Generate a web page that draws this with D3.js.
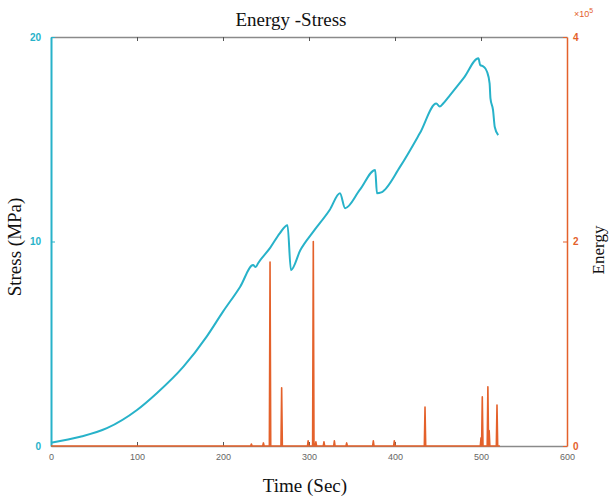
<!DOCTYPE html>
<html>
<head>
<meta charset="utf-8">
<script src="https://cdn.jsdelivr.net/npm/d3@7"></script>
<style>
  body { margin: 0; background: #fff; }
  text { font-family: "Liberation Sans", Arial, sans-serif; }
  .serif { font-family: "Liberation Serif", "Times New Roman", serif; fill: #111; }
</style>
</head>
<body>
<div id="chart"></div>
<script>
// Energy - Stress, dual axis line chart

// stress curve (MPa) vs time (sec)
const stressTime = [0, 34, 65, 100, 123, 154, 181, 200, 220, 235, 238, 241, 255, 266, 275, 279,
  290, 305, 324, 336, 342, 359, 377, 379, 384, 406, 429, 448, 452, 456, 464, 480, 497, 499,
  503, 507, 510, 511, 514, 516, 520];
const stressValue = [0.16, 0.45, 0.87, 1.76, 2.58, 3.88, 5.35, 6.57, 7.79, 8.85, 8.75, 8.95, 9.7, 10.4, 10.8, 8.6,
  9.58, 10.48, 11.54, 12.36, 11.63, 12.52, 13.5, 12.36, 12.4, 13.66, 15.3, 16.75, 16.6, 16.75, 17.16, 18.0, 18.96, 18.63,
  18.55, 18.3, 17.73, 17.0, 16.43, 15.6, 15.2];

// energy spikes (x10^5) vs time (sec)
const spikeTime  = [233, 247, 254.7, 268.2, 299, 305, 308, 317.4, 329.5, 343.8, 374.8, 399.2, 434.9, 500, 501.5, 508, 509.5, 518.6];
const spikeValue = [0.02, 0.03, 1.8, 0.57, 0.05, 2.0, 0.04, 0.04, 0.05, 0.03, 0.05, 0.05, 0.38, 0.08, 0.48, 0.58, 0.15, 0.4];
const energyEnd = 522;

const xTicks = [0, 100, 200, 300, 400, 500, 600];
const stressTicks = [0, 10, 20];
const energyTicks = [0, 2, 4];

const cyan = "#27b2c9", orange = "#e4612b", gray = "#8a8a8a";

const W = 610, H = 498;
const margin = {top: 37, right: 43, bottom: 52, left: 51},
    width = W - margin.left - margin.right,
    height = H - margin.top - margin.bottom;

const svg = d3.select("#chart")
  .append("svg")
    .attr("width", W)
    .attr("height", H);

const g = svg.append("g")
    .attr("transform", "translate(" + margin.left + "," + margin.top + ")");

const x = d3.scaleLinear().domain([0, 600]).range([0, width]);
const yS = d3.scaleLinear().domain([0, 20]).range([height, 0]);
const yE = d3.scaleLinear().domain([0, 4]).range([height, 0]);

// top axis (ticks only, pointing in)
g.append("g")
  .call(d3.axisTop(x).tickValues(xTicks.slice(1, -1)).tickSizeInner(-4).tickSizeOuter(0).tickFormat(""))
  .call(a => a.select(".domain").attr("stroke", gray).attr("stroke-width", 1.5))
  .call(a => a.selectAll(".tick line").attr("stroke", "#555"));

// bottom axis
g.append("g")
  .attr("transform", "translate(0," + height + ")")
  .call(d3.axisBottom(x).tickValues(xTicks).tickSizeInner(-4).tickSizeOuter(0).tickPadding(8))
  .call(a => a.select(".domain").attr("stroke", gray).attr("stroke-width", 1.5))
  .call(a => a.selectAll(".tick line").attr("stroke", "#555"))
  .call(a => a.selectAll(".tick text").attr("fill", "#666").attr("font-size", 9));

// left axis (stress)
g.append("g")
  .call(d3.axisLeft(yS).tickValues(stressTicks).tickSizeInner(-4).tickSizeOuter(0).tickPadding(10))
  .call(a => a.select(".domain").attr("stroke", cyan).attr("stroke-width", 2))
  .call(a => a.selectAll(".tick line").attr("stroke", cyan))
  .call(a => a.selectAll(".tick text").attr("fill", cyan).attr("font-size", 10).attr("font-weight", "bold"));

// right axis (energy)
g.append("g")
  .attr("transform", "translate(" + width + ",0)")
  .call(d3.axisRight(yE).tickValues(energyTicks).tickFormat(d3.format("d")).tickSizeInner(-4).tickSizeOuter(0).tickPadding(6))
  .call(a => a.select(".domain").attr("stroke", orange).attr("stroke-width", 1.5))
  .call(a => a.selectAll(".tick line").attr("stroke", orange))
  .call(a => a.selectAll(".tick text").attr("fill", orange).attr("font-size", 10).attr("font-weight", "bold"));

// exponent label
const expo = svg.append("text")
  .attr("x", margin.left + width + 7)
  .attr("y", 17)
  .attr("fill", orange)
  .attr("font-size", 9);
expo.append("tspan").text("\u00d710");
expo.append("tspan").attr("dy", -4).attr("font-size", 7).text("5");

// energy line: baseline with narrow spikes
const ePts = [[0, 0]];
spikeTime.forEach((t, i) => {
  ePts.push([t - 0.8, 0], [t, spikeValue[i]], [t + 0.8, 0]);
});
ePts.push([energyEnd, 0]);

g.append("path")
  .datum(ePts)
  .attr("fill", "none")
  .attr("stroke", orange)
  .attr("stroke-width", 1.6)
  .attr("stroke-linejoin", "round")
  .attr("d", d3.line().x(d => x(d[0])).y(d => yE(d[1])));

// stress line
g.append("path")
  .datum(stressTime.map((t, i) => [t, stressValue[i]]))
  .attr("fill", "none")
  .attr("stroke", cyan)
  .attr("stroke-width", 2)
  .attr("stroke-linejoin", "round")
  .attr("d", d3.line().x(d => x(d[0])).y(d => yS(d[1])).curve(d3.curveMonotoneX));

// titles
svg.append("text")
  .attr("class", "serif")
  .attr("x", 291).attr("y", 26)
  .attr("text-anchor", "middle")
  .attr("font-size", 19)
  .text("Energy -Stress");

svg.append("text")
  .attr("class", "serif")
  .attr("x", 305).attr("y", 492)
  .attr("text-anchor", "middle")
  .attr("font-size", 19)
  .text("Time (Sec)");

svg.append("text")
  .attr("class", "serif")
  .attr("transform", "translate(21,247) rotate(-90)")
  .attr("text-anchor", "middle")
  .attr("font-size", 19)
  .text("Stress (MPa)");

svg.append("text")
  .attr("class", "serif")
  .attr("transform", "translate(604,250) rotate(-90)")
  .attr("text-anchor", "middle")
  .attr("font-size", 17)
  .text("Energy");
</script>
</body>
</html>
